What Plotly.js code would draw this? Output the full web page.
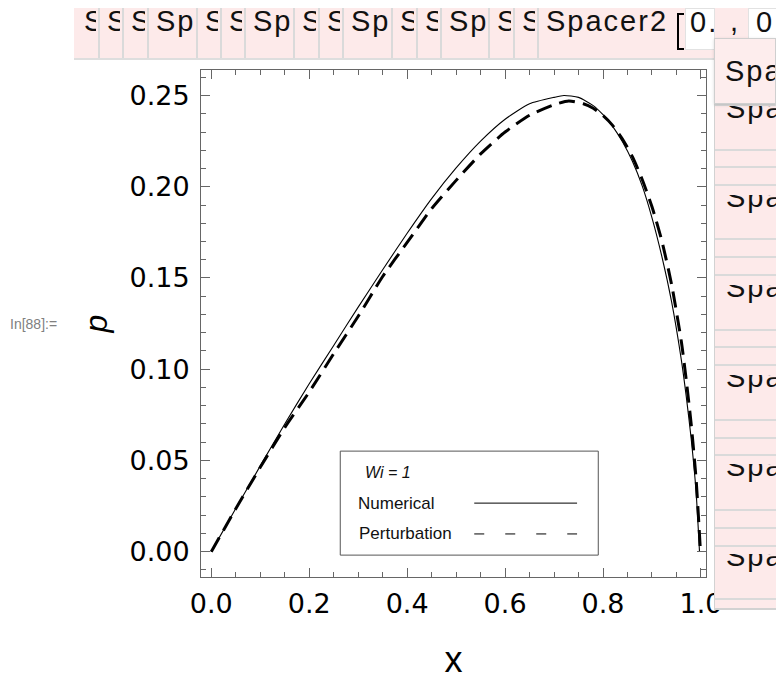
<!DOCTYPE html>
<html><head><meta charset="utf-8">
<script src="https://cdn.plot.ly/plotly-3.0.1.min.js"></script>
<style>
body{margin:0;background:#fff;overflow:hidden;width:776px;height:680px;}
#chart{position:absolute;left:0;top:0;width:776px;height:680px;}
.ov{position:absolute;overflow:hidden;box-sizing:border-box;}
.t{position:absolute;left:0;top:0;white-space:nowrap;font-family:"Liberation Sans",Arial,sans-serif;font-size:29px;letter-spacing:2px;line-height:29px;color:#111;}
</style></head><body>
<div id="chart"></div>
<script>
// ---- data ----
const xNum  = [0, 0.05, 0.1, 0.15, 0.2, 0.25, 0.3, 0.35, 0.4, 0.45, 0.5, 0.55, 0.6, 0.65, 0.7, 0.72, 0.75, 0.78, 0.8, 0.82, 0.84, 0.86, 0.88, 0.9, 0.92, 0.94, 0.96, 0.97, 0.98, 0.99, 0.997];
const pNum  = [0, 0.0236, 0.0470, 0.0700, 0.0920, 0.1130, 0.1340, 0.1545, 0.1745, 0.1935, 0.2103, 0.2250, 0.2370, 0.2455, 0.2490, 0.2500, 0.2490, 0.2445, 0.2395, 0.2330, 0.2245, 0.2140, 0.2005, 0.1830, 0.1620, 0.1370, 0.1050, 0.0850, 0.0620, 0.0330, 0];
const xPert = [0, 0.05, 0.1, 0.15, 0.2, 0.25, 0.3, 0.35, 0.4, 0.45, 0.5, 0.55, 0.6, 0.65, 0.7, 0.73, 0.76, 0.78, 0.8, 0.82, 0.84, 0.86, 0.88, 0.9, 0.92, 0.94, 0.96, 0.97, 0.98, 0.99, 0.999];
const pPert = [0, 0.0235, 0.0462, 0.0680, 0.0875, 0.1085, 0.1290, 0.1508, 0.1695, 0.1880, 0.2035, 0.2180, 0.2300, 0.2392, 0.2450, 0.2470, 0.2455, 0.2430, 0.2390, 0.2335, 0.2260, 0.2165, 0.2040, 0.1890, 0.1705, 0.1465, 0.1150, 0.0940, 0.0700, 0.0400, 0];
const xTickVals = [0, 0.2, 0.4, 0.6, 0.8, 1.0];
const xTickText = ["0.0", "0.2", "0.4", "0.6", "0.8", "1.0"];
const yTickVals = [0, 0.05, 0.10, 0.15, 0.20, 0.25];
const yTickText = ["0.00", "0.05", "0.10", "0.15", "0.20", "0.25"];
const legendTitle = "Wi = 1";
const seriesNames = ["Numerical", "Perturbation"];

const frame = '#666';
const tickFont = {family: 'DejaVu Sans', size: 27, color: '#000'};

const traces = [
  {x: xNum, y: pNum, name: seriesNames[0], mode: 'lines', line: {color: '#000', width: 1.1, shape: 'spline', smoothing: 0.6}, hoverinfo: 'skip'},
  {x: xPert, y: pPert, name: seriesNames[1], mode: 'lines', line: {color: '#000', width: 3, dash: '16px,8px', shape: 'spline', smoothing: 0.6}, hoverinfo: 'skip'}
];

const layout = {
  width: 776, height: 680,
  margin: {l: 201, r: 70, t: 70, b: 103},
  paper_bgcolor: 'rgba(0,0,0,0)', plot_bgcolor: '#fff',
  showlegend: false,
  xaxis: {
    range: [-0.021, 1.0103], tickvals: xTickVals, ticktext: xTickText,
    ticks: 'inside', ticklen: 9, tickcolor: frame, tickwidth: 1,
    minor: {dtick: 0.05, tick0: 0, ticks: 'inside', ticklen: 5, tickcolor: frame, tickwidth: 1},
    showline: true, linecolor: frame, linewidth: 1, mirror: 'allticks',
    showgrid: false, zeroline: false, tickfont: tickFont, ticklabelstandoff: 3,
    title: {text: 'x', font: {family: 'Liberation Sans', size: 36, color: '#000'}, standoff: 30}
  },
  yaxis: {
    range: [-0.0139, 0.2640], tickvals: yTickVals, ticktext: yTickText,
    ticks: 'inside', ticklen: 9, tickcolor: frame, tickwidth: 1,
    minor: {dtick: 0.01, tick0: 0, ticks: 'inside', ticklen: 5, tickcolor: frame, tickwidth: 1},
    showline: true, linecolor: frame, linewidth: 1, mirror: 'allticks',
    showgrid: false, zeroline: false, tickfont: tickFont, ticklabelstandoff: 5,
    title: {text: '<i>p</i>', font: {family: 'Liberation Sans', size: 32, color: '#000'}, standoff: 12}
  },
  shapes: [
    {type: 'rect', xref: 'x', yref: 'y', x0: 0.2634, x1: 0.7903, y0: -0.0019, y1: 0.0551, line: {color: '#555', width: 1}, fillcolor: 'rgba(255,255,255,0.9)'},
    {type: 'line', xref: 'x', yref: 'y', x0: 0.537, x1: 0.747, y0: 0.0266, y1: 0.0266, line: {color: '#000', width: 1}},
    {type: 'line', xref: 'x', yref: 'y', x0: 0.537, x1: 0.747, y0: 0.0097, y1: 0.0097, line: {color: '#000', width: 1, dash: '10px,21px'}}
  ],
  annotations: [
    {xref: 'x', yref: 'y', x: 0.3104, y: 0.0434, xanchor: 'left', yanchor: 'middle', showarrow: false, text: '<i>' + legendTitle + '</i>', font: {family: 'Liberation Sans', size: 16, color: '#111'}},
    {xref: 'x', yref: 'y', x: 0.2961, y: 0.0265, xanchor: 'left', yanchor: 'middle', showarrow: false, text: seriesNames[0], font: {family: 'Liberation Sans', size: 17, color: '#111'}},
    {xref: 'x', yref: 'y', x: 0.2981, y: 0.0100, xanchor: 'left', yanchor: 'middle', showarrow: false, text: seriesNames[1], font: {family: 'Liberation Sans', size: 17, color: '#111'}}
  ]
};

Plotly.newPlot('chart', traces, layout, {staticPlot: true, displayModeBar: false});

// ---- notebook interface fragments around the graphic ----
function box(x, y, w, h, css, html) {
  const d = document.createElement('div');
  d.className = 'ov';
  d.style.cssText = `left:${x}px;top:${y}px;width:${w}px;height:${h}px;` + (css || '');
  if (html) d.innerHTML = html;
  document.body.appendChild(d);
  return d;
}
const pink = '#fdeaea', sep = '#dadada';
// top strip
box(74, 8, 702, 50, 'background:' + pink + ';');
box(74, 58, 640, 2, 'background:#dedede;');
const cellEdges = [75, 98, 122, 147, 196, 220, 244, 293, 318, 342, 391, 416, 440, 488, 513, 537, 676];
const cellText = ['S','S','S','Sp','S','S','Sp','S','S','Sp','S','S','Sp','S','S','Spacer2'];
for (let i = 0; i < cellText.length; i++) {
  const x0 = cellEdges[i], x1 = cellEdges[i + 1];
  if (i > 0) box(x0, 8, 2, 50, 'background:' + sep + ';');
  box(x0 + 9, 8, x1 - x0 - 11, 50, '', '<span class="t" style="top:-1px">' + cellText[i] + '</span>');
}
// bracket and first argument boxes
box(677, 13, 7, 37, 'border-left:2px solid #000;border-top:2px solid #000;border-bottom:2px solid #000;');
box(685, 8, 30, 42, 'background:#fff;border:1px solid #e2e2e2;', '<span class="t" style="left:4px;top:-1px">0.</span>');
box(728, 8, 14, 42, '', '<span class="t" style="left:2px;top:-1px">,</span>');
box(748, 8, 30, 42, 'background:#fff;border:1px solid #e2e2e2;', '<span class="t" style="left:7px;top:-1px">0</span>');
// right column panel
box(714, 104, 62, 506, 'background:' + pink + ';border-left:1px solid #d2d2d2;border-bottom:2px solid #d2d2d2;');
const rowLines = [103.7, 148.5, 166, 184, 238, 256, 274, 328.5, 346, 364, 419, 437, 454, 509, 527, 545, 598];
rowLines.forEach(y => box(715, y, 61, 2, 'background:' + sep + ';'));
const rowTextTops = [105.5, 195, 284.5, 374.5, 464, 553.5];
rowTextTops.forEach(y => box(726, y, 50, 19, '', '<span class="t" style="top:-12px">Spa</span>'));
box(714, 38, 62, 66, 'background:#fdeded;border:1px solid #cfcfcf;box-shadow:0 1px 3px rgba(0,0,0,0.15);', '<span class="t" style="left:10px;top:18px">Spa</span>');
// input label
box(10, 316, 60, 20, '', '<span style="position:absolute;left:0;top:0;font-family:\'Liberation Sans\',Arial,sans-serif;font-size:14px;color:#808080;white-space:nowrap;">In[88]:=</span>');
</script>
</body></html>
